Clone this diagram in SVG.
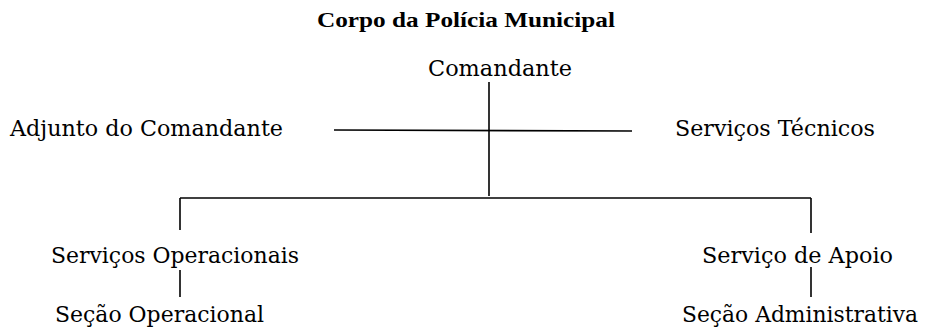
<svg xmlns="http://www.w3.org/2000/svg" width="925" height="332" viewBox="0 0 925 332">
<style>
.t{font-family:"DejaVu Serif","Liberation Serif",serif;font-size:23px;fill:#000}
.b{font-size:22px}
.h{font-family:"Liberation Serif","Times New Roman",serif;font-size:22px;font-weight:bold;fill:#000}
.c line{stroke:#000;stroke-width:1.6}
</style>
<rect width="925" height="332" fill="#fff"/>
<text class="h" x="317" y="27" textLength="298" lengthAdjust="spacingAndGlyphs">Corpo da Polícia Municipal</text>
<g id="n-comandante"><text class="t" x="428" y="76" textLength="144" lengthAdjust="spacingAndGlyphs">Comandante</text></g>
<g id="n-adjunto"><text class="t" x="10" y="136" textLength="273" lengthAdjust="spacingAndGlyphs">Adjunto do Comandante</text></g>
<g id="n-tecnicos"><text class="t" x="675" y="136" textLength="200" lengthAdjust="spacingAndGlyphs">Serviços Técnicos</text></g>
<g id="n-operacionais"><text class="t" x="51" y="263" textLength="248" lengthAdjust="spacingAndGlyphs">Serviços Operacionais</text></g>
<g id="n-apoio"><text class="t" x="702" y="263" textLength="191" lengthAdjust="spacingAndGlyphs">Serviço de Apoio</text></g>
<g id="n-secop"><text class="t b" x="55" y="322" textLength="209" lengthAdjust="spacingAndGlyphs">Seção Operacional</text></g>
<g id="n-secadm"><text class="t b" x="682" y="322" textLength="236" lengthAdjust="spacingAndGlyphs">Seção Administrativa</text></g>
<g id="connectors" class="c">
<line x1="489" y1="82" x2="489" y2="196"/>
<line x1="334" y1="130" x2="632" y2="131"/>
<line x1="180" y1="198" x2="811" y2="198"/>
<line x1="180" y1="198" x2="180" y2="230"/>
<line x1="811" y1="198" x2="811" y2="233"/>
<line x1="180" y1="270" x2="180" y2="297"/>
<line x1="811" y1="267" x2="811" y2="297"/>
</g>
</svg>
